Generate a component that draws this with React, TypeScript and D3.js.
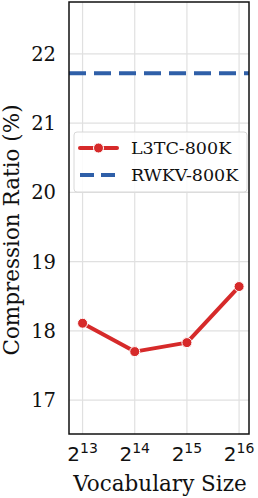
import React from "react";
import {line, scaleLinear} from "d3";

// Data
const exponents = [13, 14, 15, 16];
const l3tcValues = [18.11, 17.7, 17.83, 18.64];
const rwkvValue = 21.72;
const yTicks = [17, 18, 19, 20, 21, 22];

const RED = "#d62a2a";
const BLUE = "#2f5fa8";

function App() {
    const width = 258;
    const height = 498;
    const left = 69, right = 249, top = 2, bottom = 434;

    const x = scaleLinear().domain([12.74, 16.19]).range([left, right]);
    const y = scaleLinear().domain([16.51, 22.75]).range([bottom, top]);

    const pts: [number, number][] = exponents.map((e, i) => [x(e), y(l3tcValues[i])]);
    const path = line()(pts) || "";

    const serif = "'DejaVu Serif', serif";
    const sans = "'DejaVu Sans', sans-serif";

    return (
        <svg width={width} height={height}
             style={{position: "absolute", left: 0, top: 0}}>
            <rect width={width} height={height} fill="white"/>
            {/* grid */}
            {exponents.map(e => (
                <line key={"gx" + e} x1={x(e)} x2={x(e)} y1={top} y2={bottom}
                      stroke="#e0e0e0" strokeWidth={1.2}/>
            ))}
            {yTicks.map(t => (
                <line key={"gy" + t} x1={left} x2={right} y1={y(t)} y2={y(t)}
                      stroke="#e0e0e0" strokeWidth={1.2}/>
            ))}
            {/* RWKV baseline */}
            <line x1={left} x2={right} y1={y(rwkvValue)} y2={y(rwkvValue)}
                  stroke={BLUE} strokeWidth={4} strokeDasharray="17 8"/>
            {/* L3TC */}
            <path d={path} fill="none" stroke={RED} strokeWidth={4}
                  strokeLinejoin="round" strokeLinecap="round"/>
            {pts.map((p, i) => (
                <circle key={i} cx={p[0]} cy={p[1]} r={5} fill={RED}
                        stroke="white" strokeWidth={1}/>
            ))}
            {/* frame */}
            <rect x={left} y={top} width={right - left} height={bottom - top}
                  fill="none" stroke="#111" strokeWidth={1.5}/>
            {/* y ticks */}
            {yTicks.map(t => (
                <text key={"ty" + t} x={56} y={y(t)} dy="0.36em"
                      textAnchor="end" fontFamily={serif} fontSize={19.5}
                      fill="#111">{t}</text>
            ))}
            {/* x ticks */}
            {exponents.map(e => (
                <text key={"tx" + e} x={x(e)} y={461} textAnchor="middle"
                      fontFamily={sans} fontSize={20} fill="#111">
                    2<tspan dy={-8.5} fontSize={14}>{e}</tspan>
                </text>
            ))}
            {/* axis titles */}
            <text x={160} y={490.5} textAnchor="middle" fontFamily={serif}
                  fontSize={21.5} fill="#111">Vocabulary Size</text>
            <text transform="translate(18.5,230) rotate(-90)"
                  textAnchor="middle" fontFamily={serif} fontSize={21.5}
                  fill="#111">Compression Ratio (%)</text>
            {/* legend */}
            <g>
                <rect x={74} y={132} width={173} height={60} rx={3}
                      fill="white" fillOpacity={0.85} stroke="#d8d8d8"/>
                <line x1={80} x2={117} y1={148} y2={148} stroke={RED}
                      strokeWidth={4} strokeLinecap="round"/>
                <circle cx={98.5} cy={148} r={5} fill={RED} stroke="white"
                        strokeWidth={1}/>
                <text x={131} y={148} dy="0.36em" fontFamily={serif}
                      fontSize={17.5} fill="#111">L3TC-800K</text>
                <line x1={80} x2={117} y1={175} y2={175} stroke={BLUE}
                      strokeWidth={4} strokeDasharray="14 7"/>
                <text x={131} y={175} dy="0.36em" fontFamily={serif}
                      fontSize={17.5} fill="#111">RWKV-800K</text>
            </g>
        </svg>
    );
}

export default App;
